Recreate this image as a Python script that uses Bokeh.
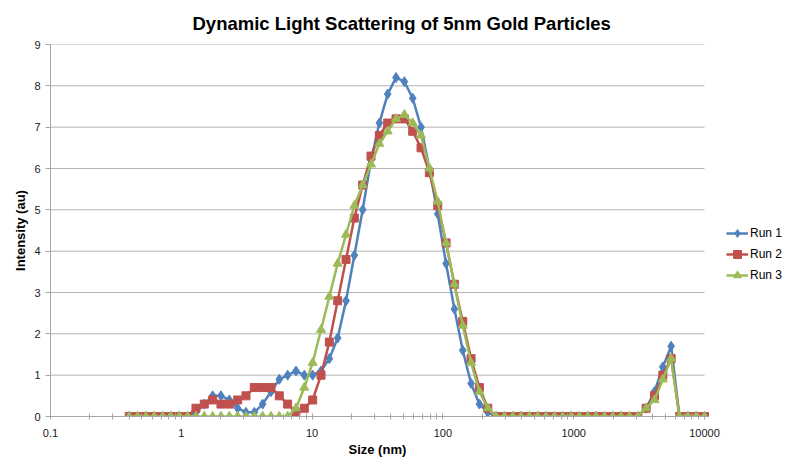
from bokeh.plotting import figure
from bokeh.models import (FixedTicker, CustomJSTickFormatter, Legend, LegendItem,
                          Range1d, Title)
from bokeh.embed import file_html
from bokeh.resources import INLINE

# ---- data ----
sizes_nm = [0.4, 0.4632, 0.5365, 0.6213, 0.7195, 0.8332, 0.9649, 1.117, 1.294, 1.499,
            1.736, 2.01, 2.328, 2.696, 3.122, 3.615, 4.187, 4.849, 5.615, 6.503,
            7.531, 8.721, 10.1, 11.7, 13.54, 15.69, 18.17, 21.04, 24.36, 28.21,
            32.67, 37.84, 43.82, 50.75, 58.77, 68.06, 78.82, 91.28, 105.7, 122.4,
            141.8, 164.2, 190.1, 220.2, 255.0, 295.3, 342.0, 396.1, 458.7, 531.2,
            615.1, 712.4, 825.0, 955.4, 1106, 1281, 1484, 1718, 1990, 2305,
            2669, 3091, 3580, 4145, 4801, 5560, 6439, 7456, 8635, 10000]

run1 = [0, 0, 0, 0, 0, 0, 0, 0, 0.1, 0.3,
        0.5, 0.5, 0.4, 0.2, 0.1, 0.1, 0.3, 0.6, 0.9, 1.0,
        1.1, 1.0, 1.0, 1.1, 1.4, 1.9, 2.8, 3.9, 5.0, 6.2,
        7.1, 7.8, 8.2, 8.1, 7.7, 7.0, 6.0, 4.9, 3.7, 2.6,
        1.6, 0.8, 0.3, 0.1, 0, 0, 0, 0, 0, 0,
        0, 0, 0, 0, 0, 0, 0, 0, 0, 0,
        0, 0, 0.2, 0.6, 1.2, 1.7, 0, 0, 0, 0]

run2 = [0, 0, 0, 0, 0, 0, 0, 0, 0.2, 0.3,
        0.4, 0.3, 0.3, 0.4, 0.5, 0.7, 0.7, 0.7, 0.5, 0.3,
        0.1, 0.2, 0.4, 1.0, 1.8, 2.8, 3.8, 4.8, 5.6, 6.3,
        6.8, 7.1, 7.2, 7.2, 6.9, 6.5, 5.9, 5.1, 4.2, 3.2,
        2.3, 1.4, 0.7, 0.2, 0, 0, 0, 0, 0, 0,
        0, 0, 0, 0, 0, 0, 0, 0, 0, 0,
        0, 0, 0.2, 0.5, 1.0, 1.4, 0, 0, 0, 0]

run3 = [0, 0, 0, 0, 0, 0, 0, 0, 0, 0,
        0, 0, 0, 0, 0, 0, 0, 0, 0, 0,
        0.2, 0.7, 1.3, 2.1, 2.9, 3.7, 4.4, 5.1, 5.6, 6.1,
        6.6, 6.9, 7.2, 7.3, 7.1, 6.8, 6.0, 5.2, 4.2, 3.2,
        2.2, 1.3, 0.6, 0.2, 0, 0, 0, 0, 0, 0,
        0, 0, 0, 0, 0, 0, 0, 0, 0, 0,
        0, 0, 0.2, 0.4, 0.9, 1.4, 0, 0, 0, 0]

series_names = ["Run 1", "Run 2", "Run 3"]
series_colors = ["#4F81BD", "#C0504D", "#9BBB59"]
series_markers = ["diamond", "square", "triangle"]
series_marker_sizes = [10, 8, 9]

x_major_ticks = [0.1, 1, 10, 100, 1000, 10000]
y_ticks = [0, 1, 2, 3, 4, 5, 6, 7, 8, 9]

FONT = "Liberation Sans"

# layout geometry (pixels)
W, H = 784, 458
LEFT, TOP, BOTTOM = 50, 44, 42
PLOT_RIGHT = 704                    # where 10000 sits
decade_px = (PLOT_RIGHT - LEFT) / 5.0
x_end = 10 ** (4 + (W - PLOT_RIGHT) / decade_px)   # frame extends under the legend

p = figure(width=W, height=H, x_axis_type="log",
           x_range=Range1d(0.1, x_end), y_range=Range1d(0, 9),
           output_backend="svg", toolbar_location=None,
           min_border_left=LEFT, min_border_right=0,
           min_border_top=TOP, min_border_bottom=BOTTOM)
p.outline_line_color = None
p.background_fill_color = "white"
p.border_fill_color = "white"

# title
p.title.text = "Dynamic Light Scattering of 5nm Gold Particles"
p.title.text_font = FONT
p.title.text_font_size = "18.5px"
p.title.text_font_style = "bold"
p.title.text_color = "#000000"
p.title.align = "left"
p.title.offset = 142
p.title.vertical_align = "middle"
p.title.standoff = 20

# grids: horizontal lines only over the plot area
p.xgrid.visible = False
p.ygrid.visible = False
p.segment(x0=x_major_ticks[0], x1=x_major_ticks[-1], y0=y_ticks[1:], y1=y_ticks[1:],
          line_color="#B3B3B3", line_width=1)

# axes
minor = [m * d for d in x_major_ticks[:-1] for m in range(2, 10)]
p.xaxis.ticker = FixedTicker(ticks=x_major_ticks, minor_ticks=minor)
p.xaxis.formatter = CustomJSTickFormatter(code="return tick.toString();")
p.xaxis.bounds = (x_major_ticks[0], x_major_ticks[-1])
p.yaxis.axis_label = "Intensity (au)"
for ax in (p.xaxis[0], p.yaxis[0]):
    ax.axis_line_color = "#A6A6A6"
    ax.major_tick_line_color = "#A6A6A6"
    ax.minor_tick_line_color = "#A6A6A6"
    ax.major_label_text_font = FONT
    ax.major_label_text_font_size = "11px"
    ax.major_label_text_color = "#1A1A1A"
    ax.axis_label_text_font = FONT
    ax.axis_label_text_font_size = "13px"
    ax.axis_label_text_font_style = "bold"
    ax.axis_label_text_color = "#000000"

p.xaxis.major_tick_in = 3
p.xaxis.major_tick_out = 3
p.xaxis.minor_tick_in = 3
p.xaxis.minor_tick_out = 3
p.xaxis.major_label_standoff = 9

p.yaxis.ticker = FixedTicker(ticks=y_ticks, minor_ticks=[])
p.yaxis.major_tick_in = 0
p.yaxis.major_tick_out = 5
p.yaxis.minor_tick_line_color = None
p.yaxis.major_label_standoff = 5
p.yaxis.axis_label_standoff = 3

# x axis title, centred under the plot area
xlabel = Title(text="Size (nm)", align="left", offset=298, standoff=0,
               text_font=FONT, text_font_size="13px", text_font_style="bold",
               text_color="#000000")
p.add_layout(xlabel, "below")

items = []
for name, ys, col, mk, ms in zip(series_names, [run1, run2, run3], series_colors,
                                 series_markers, series_marker_sizes):
    ln = p.line(sizes_nm, ys, line_color=col, line_width=2.5)
    sc = p.scatter(sizes_nm, ys, marker=mk, size=ms, fill_color=col, line_color=col)
    items.append(LegendItem(label=name, renderers=[ln, sc]))

legend = Legend(items=items, location=(676, 131), orientation="vertical",
                padding=0, margin=0, border_line_color=None,
                background_fill_alpha=0, glyph_width=22, glyph_height=20,
                label_height=20, spacing=1, label_standoff=2,
                label_text_font=FONT, label_text_font_size="12px",
                label_text_color="#000000")
p.add_layout(legend)

open("out.html", "w").write(file_html(p, INLINE))
